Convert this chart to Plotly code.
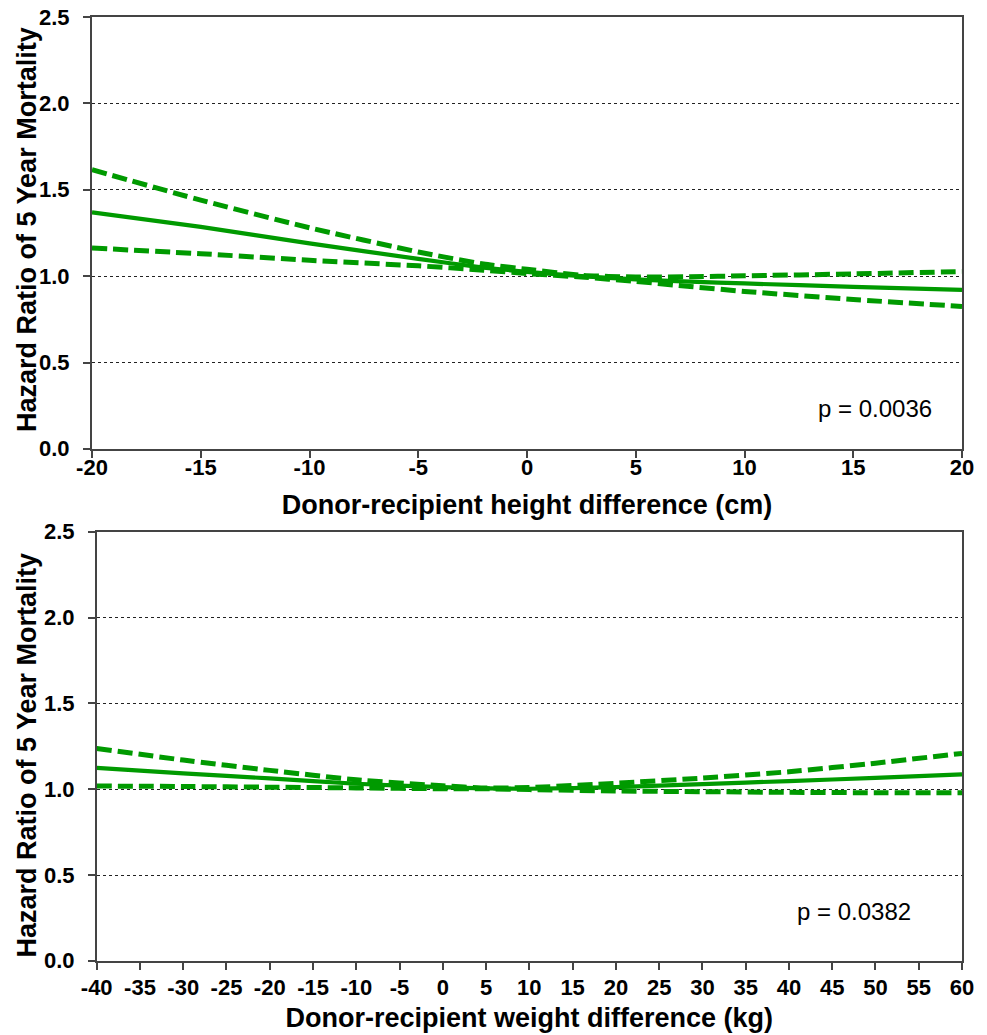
import plotly.graph_objects as go
from plotly.subplots import make_subplots

# ---- Data: top panel (height difference, cm) ----
height_x = [-20, -15, -10, -5, -2, 0, 2.5, 5, 7.5, 10, 15, 20]
height_hr = [1.369, 1.285, 1.19, 1.10, 1.05, 1.025, 1.0, 0.982, 0.968, 0.958, 0.938, 0.921]
height_upper = [1.616, 1.44, 1.28, 1.14, 1.07, 1.04, 1.005, 0.995, 0.997, 1.002, 1.013, 1.027]
height_lower = [1.163, 1.13, 1.092, 1.06, 1.035, 1.015, 0.995, 0.97, 0.94, 0.912, 0.865, 0.825]
height_ticks = [-20, -15, -10, -5, 0, 5, 10, 15, 20]

# ---- Data: bottom panel (weight difference, kg) ----
weight_x = [-40, -30, -20, -10, 0, 5, 10, 20, 30, 40, 50, 60]
weight_hr = [1.125, 1.093, 1.063, 1.032, 1.012, 1.005, 1.003, 1.012, 1.03, 1.048, 1.066, 1.087]
weight_upper = [1.238, 1.17, 1.11, 1.055, 1.02, 1.007, 1.01, 1.035, 1.065, 1.102, 1.152, 1.209]
weight_lower = [1.019, 1.016, 1.012, 1.008, 1.003, 1.003, 0.998, 0.99, 0.986, 0.982, 0.98, 0.98]
weight_ticks = list(range(-40, 61, 5))

y_ticks = [0.0, 0.5, 1.0, 1.5, 2.0, 2.5]
y_title = "Hazard Ratio of 5 Year Mortality"
p_top = "p = 0.0036"
p_bottom = "p = 0.0382"

GREEN = "#009a00"
FONT = "Liberation Sans, Arial, sans-serif"

fig = make_subplots(rows=2, cols=1)

def add_panel(row, x, hr, up, lo):
    dash = dict(color=GREEN, width=5, dash="15px,6px", shape="spline", smoothing=0.5)
    fig.add_trace(go.Scatter(x=x, y=up, mode="lines", line=dash, showlegend=False), row=row, col=1)
    fig.add_trace(go.Scatter(x=x, y=lo, mode="lines", line=dash, showlegend=False), row=row, col=1)
    fig.add_trace(go.Scatter(x=x, y=hr, mode="lines",
                             line=dict(color=GREEN, width=4.2, shape="spline", smoothing=0.5),
                             showlegend=False), row=row, col=1)

add_panel(1, height_x, height_hr, height_upper, height_lower)
add_panel(2, weight_x, weight_hr, weight_upper, weight_lower)

tick_font = dict(family=FONT, size=22, color="black", weight="bold")
axis_common = dict(
    showline=True, linecolor="#444", linewidth=1.5, mirror=True,
    ticks="outside", ticklen=7, tickcolor="#444", tickwidth=1.5,
    tickfont=tick_font, zeroline=False, automargin=False,
)

fig.update_xaxes(**axis_common, showgrid=False)
fig.update_yaxes(**axis_common, showgrid=True, gridcolor="#222", gridwidth=1, griddash="dot",
                 tickvals=y_ticks, showticklabels=False, range=[0, 2.5])

title_font = dict(family=FONT, size=27, color="black", weight="bold")

fig.update_xaxes(row=1, col=1, range=[-20, 20], tickvals=height_ticks,
                 ticktext=[str(t) for t in height_ticks], ticklabelstandoff=-9,
                 title=dict(text="Donor-recipient height difference (cm)", font=title_font, standoff=16),
                 domain=[0, 1])
fig.update_xaxes(row=2, col=1, range=[-40, 60], tickvals=weight_ticks,
                 ticktext=[str(t) for t in weight_ticks], ticklabelstandoff=-1,
                 title=dict(text="Donor-recipient weight difference (kg)", font=title_font, standoff=9),
                 domain=[0.0054, 1])
fig.update_yaxes(row=1, col=1, domain=[0.5424, 1.0])
fig.update_yaxes(row=2, col=1, domain=[0.0, 0.4548])

# y tick labels and y titles placed as text relative to each y axis
for xd, yr, yd, title_y, title_shift in [("x domain", "y", "y domain", 0.507, -65),
                                          ("x2 domain", "y2", "y2 domain", 0.48, -70)]:
    for v in y_ticks:
        fig.add_annotation(x=0, y=v, xref=xd, yref=yr, text=f"{v:.1f}", showarrow=False,
                           xanchor="right", yanchor="middle", xshift=-20, font=tick_font)
    fig.add_annotation(x=0, y=title_y, xref=xd, yref=yd, text=y_title, showarrow=False,
                       textangle=-90, xanchor="center", yanchor="middle", xshift=title_shift,
                       font=title_font)

fig.add_annotation(x=16.0, y=0.237, xref="x", yref="y", text=p_top, showarrow=False,
                   font=dict(family=FONT, size=24, color="black"))
fig.add_annotation(x=47.5, y=0.287, xref="x2", yref="y2", text=p_bottom, showarrow=False,
                   font=dict(family=FONT, size=24, color="black"))

fig.update_layout(
    width=987, height=1035,
    margin=dict(l=92, r=25, t=17, b=74),
    plot_bgcolor="white", paper_bgcolor="white",
    showlegend=False,
)

# remove the page's default 8px body margin so the figure fills the window exactly
fig.write_html("out.html", config={"displayModeBar": False},
               post_script="document.body.style.margin='0';document.body.style.overflow='hidden';")
